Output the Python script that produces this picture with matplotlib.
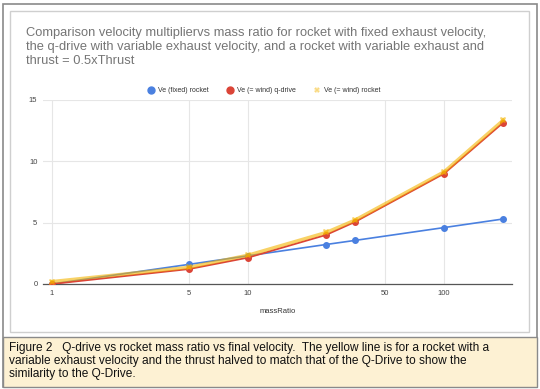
import matplotlib
matplotlib.use("Agg")
import matplotlib.pyplot as plt
from matplotlib.patches import Rectangle
from matplotlib.lines import Line2D

plt.rcParams['font.family'] = ['Liberation Sans', 'DejaVu Sans']

mass_ratio = [1, 5, 10, 25, 35, 100, 200]
ve_fixed_rocket = [0.0, 1.6, 2.3, 3.22, 3.55, 4.6, 5.3]
ve_wind_qdrive = [0.0, 1.22, 2.15, 4.0, 5.05, 9.0, 13.15]
ve_wind_rocket = [0.2, 1.36, 2.35, 4.2, 5.2, 9.15, 13.35]
x_ticks = [1, 5, 10, 50, 100]
y_ticks = [0, 5, 10, 15]
series_names = ["Ve (fixed) rocket", "Ve (= wind) q-drive", "Ve (= wind) rocket"]

W, H = 540, 389
fig = plt.figure(figsize=(W / 100, H / 100), dpi=100)

def px_rect(x0, y0, x1, y1, **kw):
    r = Rectangle((x0 / W, 1 - y1 / H), (x1 - x0) / W, (y1 - y0) / H,
                  transform=fig.transFigure, **kw)
    fig.add_artist(r)

# outer frame
px_rect(2.5, 3.5, 537, 386.5, facecolor='white', edgecolor='#8a8a8a', lw=1.2, zorder=0)
# caption background
px_rect(2.5, 336.5, 537, 386.5, facecolor='#fdf1d3', edgecolor='#8a8a8a', lw=1.0, zorder=0)
# inner chart box
px_rect(10, 11, 529, 332, facecolor='white', edgecolor='#cfcfcf', lw=1.0, zorder=0)

ax = fig.add_axes([43 / W, 1 - 284 / H, (512 - 43) / W, (284 - 100) / H])
ax.set_xscale('log')
ax.set_xlim(0.9, 222)
ax.set_ylim(0, 15)

c_blue = '#4a80e0'
c_red = '#DB4437'
c_yel = '#F4B400'

ax.plot(mass_ratio, ve_fixed_rocket, color=c_blue, lw=1.2, marker='o', ms=4, zorder=3)
ax.plot(mass_ratio, ve_wind_qdrive, color=c_red, lw=1.3, marker='o', ms=4, zorder=4)
ax.plot(mass_ratio, ve_wind_rocket, color=c_yel, lw=2.4, alpha=0.6, marker='X', ms=5,
        markeredgewidth=0, zorder=5)

ax.set_xticks(x_ticks)
ax.set_xticklabels([str(t) for t in x_ticks])
ax.xaxis.set_minor_locator(matplotlib.ticker.NullLocator())
ax.set_yticks(y_ticks)
ax.set_yticklabels([str(t) for t in y_ticks])
ax.tick_params(axis='both', length=0, labelsize=5.5, colors='#444444', pad=4)
ax.grid(True, color='#e6e6e6', lw=0.8)
ax.set_axisbelow(True)
for s in ['top', 'right', 'left']:
    ax.spines[s].set_visible(False)
ax.spines['bottom'].set_color('#555555')
ax.spines['bottom'].set_linewidth(0.9)
ax.set_xlabel('massRatio', fontsize=5.5, color='#333333', labelpad=8)

# title
fig.text(26 / W, 1 - 27 / H,
         "Comparison velocity multipliervs mass ratio for rocket with fixed exhaust velocity,\n"
         "the q-drive with variable exhaust velocity, and a rocket with variable exhaust and\n"
         "thrust = 0.5xThrust",
         fontsize=9.25, color='#757575', va='top', ha='left', linespacing=1.22)

# legend
handles = [
    Line2D([], [], color=c_blue, marker='o', ls='none', ms=5),
    Line2D([], [], color=c_red, marker='o', ls='none', ms=5),
    Line2D([], [], color=c_yel, marker='X', ls='none', ms=4, alpha=0.5, markeredgewidth=0),
]
fig.legend(handles, series_names, loc='center', bbox_to_anchor=(264 / W, 1 - 91 / H),
           ncol=3, frameon=False, fontsize=5, handletextpad=0.5, columnspacing=2.6,
           handlelength=1.0, labelcolor='#333333')

# caption
fig.text(9 / W, 1 - 342 / H,
         "Figure 2   Q-drive vs rocket mass ratio vs final velocity.  The yellow line is for a rocket with a\n"
         "variable exhaust velocity and the thrust halved to match that of the Q-Drive to show the\n"
         "similarity to the Q-Drive.",
         fontsize=8.6, color='#111111', va='top', ha='left', linespacing=1.1)

fig.savefig('out.png', dpi=100)
